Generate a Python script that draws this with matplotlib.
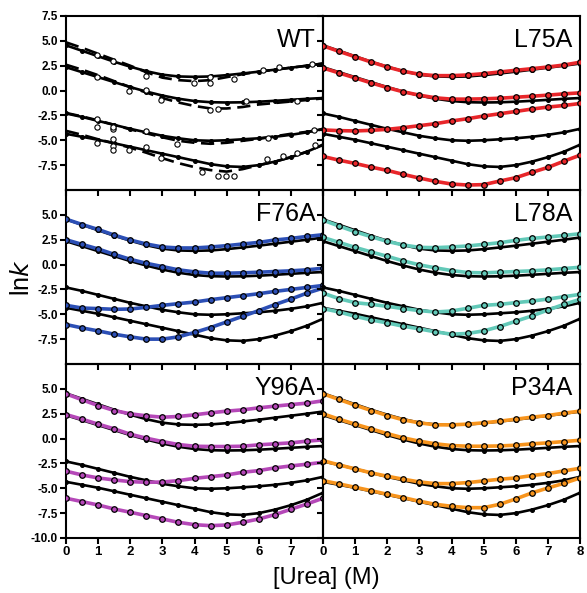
import matplotlib.pyplot as plt

plt.rcParams['font.family'] = ['Liberation Sans', 'DejaVu Sans']

# urea concentrations (M)
urea = [0, 0.5, 1, 1.5, 2, 2.5, 3, 3.5, 4, 4.5, 5, 5.5, 6, 6.5, 7, 7.5, 8]

# WT global fits (solid black, repeated in every panel)
wt_1 = [4.55, 4.0, 3.45, 2.9, 2.4, 1.95, 1.6, 1.42, 1.38, 1.42, 1.55, 1.72, 1.9, 2.1, 2.3, 2.5, 2.72]
wt_2 = [2.35, 1.85, 1.35, 0.85, 0.35, -0.1, -0.5, -0.82, -1.05, -1.17, -1.2, -1.18, -1.12, -1.03, -0.93, -0.83, -0.75]
wt_3 = [-2.3, -2.65, -3.05, -3.45, -3.85, -4.2, -4.55, -4.8, -5.0, -5.05, -5.0, -4.9, -4.8, -4.65, -4.45, -4.2, -3.85]
wt_4 = [-4.35, -4.65, -4.95, -5.3, -5.65, -6.0, -6.35, -6.7, -7.05, -7.4, -7.62, -7.68, -7.5, -7.15, -6.7, -6.15, -5.45]

# WT individual fits (dashed)
wt_d1 = [4.85, 4.3, 3.7, 3.1, 2.5, 1.85, 1.3, 1.05, 0.95, 1.05, 1.35, 1.65, 1.9, 2.1, 2.3, 2.5, 2.72]
wt_d2 = [2.6, 2.1, 1.55, 0.95, 0.35, -0.2, -0.75, -1.2, -1.55, -1.8, -1.8, -1.65, -1.4, -1.25, -1.1, -0.95, -0.78]
wt_d3 = [-2.25, -2.6, -3.0, -3.45, -3.9, -4.3, -4.7, -5.05, -5.25, -5.35, -5.25, -5.05, -4.85, -4.6, -4.35, -4.15, -3.9]
wt_d4 = [-4.05, -4.45, -4.9, -5.3, -5.75, -6.25, -6.8, -7.3, -7.7, -8.0, -8.15, -7.9, -7.5, -7.15, -6.7, -6.15, -5.45]

# WT raw observations (open circles)
wt_obs_x = [0.97, 1.46, 2.48, 3.97, 4.48, 4.48, 5.23, 6.12, 6.64, 7.66,
            0.97, 1.97, 2.48, 2.95, 4.48, 4.74, 5.6, 7.2,
            0.97, 0.97, 1.46, 1.46, 2.48, 3.46, 6.3, 7.71,
            0.97, 1.46, 1.46, 1.46, 1.97, 2.48, 2.95, 4.23, 4.74, 4.99, 5.23, 6.25, 6.74, 7.2, 7.74]
wt_obs_y = [3.54, 3.0, 1.43, 0.77, 0.77, 1.37, 1.17, 2.04, 2.37, 2.64,
            1.37, -0.03, 0.1, -0.97, -2.0, -1.9, -1.06, -1.0,
            -2.9, -3.66, -3.9, -3.63, -4.06, -5.4, -4.75, -4.0,
            -5.23, -4.9, -5.56, -5.96, -5.96, -5.66, -6.83, -8.16, -8.56, -8.56, -8.63, -6.9, -6.56, -6.23, -5.5]

# mutant fits
l75a_1 = [4.5, 3.94, 3.4, 2.87, 2.37, 1.94, 1.64, 1.5, 1.5, 1.57, 1.7, 1.87, 2.04, 2.2, 2.37, 2.57, 2.85]
l75a_2 = [2.27, 1.77, 1.27, 0.77, 0.3, -0.13, -0.46, -0.73, -0.86, -0.86, -0.83, -0.77, -0.67, -0.57, -0.46, -0.33, -0.23]
l75a_3 = [-3.96, -4.03, -4.06, -4.0, -3.9, -3.73, -3.53, -3.33, -3.06, -2.83, -2.56, -2.33, -2.1, -1.86, -1.66, -1.5, -1.3]
l75a_4 = [-6.63, -7.0, -7.33, -7.7, -8.03, -8.43, -8.8, -9.13, -9.4, -9.5, -9.46, -9.1, -8.76, -8.23, -7.73, -7.1, -6.5]

f76a_1 = [4.57, 4.03, 3.53, 2.97, 2.47, 2.07, 1.77, 1.67, 1.67, 1.77, 1.9, 2.07, 2.23, 2.47, 2.63, 2.83, 3.0]
f76a_2 = [2.5, 2.03, 1.57, 1.03, 0.53, 0.13, -0.2, -0.53, -0.73, -0.87, -0.87, -0.83, -0.77, -0.7, -0.63, -0.53, -0.37]
f76a_3 = [-4.1, -4.37, -4.43, -4.5, -4.47, -4.3, -4.1, -3.93, -3.77, -3.53, -3.33, -3.13, -2.93, -2.7, -2.5, -2.3, -2.1]
f76a_4 = [-6.03, -6.37, -6.67, -7.0, -7.27, -7.5, -7.5, -7.27, -6.83, -6.33, -5.77, -5.2, -4.63, -4.03, -3.47, -2.87, -2.37]

l78a_1 = [4.47, 3.87, 3.3, 2.8, 2.33, 1.97, 1.73, 1.7, 1.77, 1.87, 2.03, 2.2, 2.43, 2.63, 2.77, 2.93, 3.1]
l78a_2 = [2.73, 2.23, 1.73, 1.27, 0.83, 0.37, -0.03, -0.33, -0.6, -0.8, -0.83, -0.77, -0.7, -0.63, -0.53, -0.4, -0.27]
l78a_3 = [-2.87, -3.43, -3.83, -4.0, -4.2, -4.43, -4.63, -4.77, -4.67, -4.4, -4.1, -4.0, -3.83, -3.67, -3.47, -3.23, -3.0]
l78a_4 = [-4.43, -4.77, -5.2, -5.57, -5.87, -6.2, -6.47, -6.77, -7.0, -6.93, -6.67, -6.23, -5.7, -5.17, -4.57, -4.0, -3.5]

y96a_1 = [4.5, 3.9, 3.32, 2.82, 2.49, 2.29, 2.15, 2.22, 2.39, 2.59, 2.76, 2.89, 3.09, 3.26, 3.42, 3.56, 3.8]
y96a_2 = [2.42, 1.95, 1.45, 0.98, 0.44, 0.04, -0.3, -0.6, -0.77, -0.8, -0.8, -0.77, -0.63, -0.53, -0.43, -0.26, -0.13]
y96a_3 = [-3.28, -3.66, -3.96, -4.16, -4.33, -4.4, -4.37, -4.23, -4.0, -3.83, -3.66, -3.39, -3.22, -2.95, -2.75, -2.58, -2.38]
y96a_4 = [-6.0, -6.34, -6.68, -7.08, -7.41, -7.75, -8.09, -8.42, -8.66, -8.76, -8.69, -8.42, -8.09, -7.65, -7.11, -6.58, -6.0]

p34a_1 = [4.5, 3.93, 3.36, 2.82, 2.32, 1.88, 1.58, 1.38, 1.38, 1.45, 1.58, 1.75, 1.95, 2.15, 2.32, 2.56, 2.76]
p34a_2 = [2.49, 1.95, 1.45, 0.98, 0.5, 0.07, -0.26, -0.53, -0.7, -0.77, -0.77, -0.74, -0.67, -0.53, -0.43, -0.3, -0.17]
p34a_3 = [-2.22, -2.65, -3.05, -3.45, -3.79, -4.09, -4.36, -4.53, -4.53, -4.43, -4.26, -4.09, -3.96, -3.72, -3.52, -3.25, -2.99]
p34a_4 = [-4.23, -4.56, -4.9, -5.24, -5.6, -5.94, -6.3, -6.61, -6.81, -6.95, -6.95, -6.61, -6.07, -5.47, -4.97, -4.5, -3.96]

panel_names = ["WT", "L75A", "F76A", "L78A", "Y96A", "P34A"]
panel_colors = [None, "#e8262a", "#2c4fb5", "#62c9b8", "#b548b8", "#f7941d"]
panel_fits = [None,
              [l75a_1, l75a_2, l75a_3, l75a_4],
              [f76a_1, f76a_2, f76a_3, f76a_4],
              [l78a_1, l78a_2, l78a_3, l78a_4],
              [y96a_1, y96a_2, y96a_3, y96a_4],
              [p34a_1, p34a_2, p34a_3, p34a_4]]
wt_fits = [wt_1, wt_2, wt_3, wt_4]
wt_dashed = [wt_d1, wt_d2, wt_d3, wt_d4]

W, H = 587, 593
fig = plt.figure(figsize=(W / 100, H / 100), dpi=100)

left_px, pw = 66, 257
top_px, ph = 16, 174

for i, name in enumerate(panel_names):
    row, col = divmod(i, 2)
    x0 = (left_px + col * pw) / W
    y0 = 1 - (top_px + (row + 1) * ph) / H
    ax = fig.add_axes([x0, y0, pw / W, ph / H])
    ax.patch.set_alpha(0)

    for fit in wt_fits:
        ax.plot(urea, fit, color="black", lw=1.9, marker="o", ms=2.6,
                mfc="black", mec="black", zorder=2)

    if name == "WT":
        for fit in wt_dashed:
            ax.plot(urea, fit, color="black", lw=1.9, ls=(0, (5, 2.5)), zorder=2)
        ax.plot(wt_obs_x, wt_obs_y, ls="none", marker="o", ms=3.8,
                mfc="white", mec="black", mew=0.8, zorder=3)
    else:
        for fit in panel_fits[i]:
            ax.plot(urea, fit, color=panel_colors[i], lw=2.6, marker="o", ms=4.0,
                    mfc=panel_colors[i], mec="black", mew=0.9, zorder=3)

    ax.set_xlim(0, 8)
    ax.set_ylim(-10, 7.5)
    ax.set_xticks(range(0, 9))
    if row == 0:
        yt = [7.5, 5.0, 2.5, 0.0, -2.5, -5.0, -7.5]
    elif row == 1:
        yt = [5.0, 2.5, 0.0, -2.5, -5.0, -7.5]
    else:
        yt = [5.0, 2.5, 0.0, -2.5, -5.0, -7.5, -10.0]
    ax.set_yticks(yt)
    ax.set_yticklabels([f"{v:.1f}" for v in yt])
    if row == 2:
        if col == 0:
            ax.set_xticklabels([str(v) for v in range(0, 8)] + [""])
        else:
            ax.set_xticklabels([str(v) for v in range(0, 9)])
    else:
        ax.set_xticklabels([])
    if col == 1:
        ax.set_yticklabels([])

    ax.tick_params(direction="out", length=4, width=1.5, pad=2)
    ax.tick_params(axis="y", labelsize=8.5)
    ax.tick_params(axis="x", labelsize=9.5)
    for lab in ax.get_xticklabels() + ax.get_yticklabels():
        lab.set_fontweight("bold")
    for sp in ax.spines.values():
        sp.set_linewidth(1.5)

    ax.text(0.97, 0.93, name, transform=ax.transAxes, ha="right", va="top",
            fontsize=18)

fig.text(22 / W, 1 - 278 / H, r"ln$\mathit{k}$", rotation=90, ha="center",
         va="center", fontsize=18)
fig.text(326 / W, 1 - 578 / H, "[Urea] (M)", ha="center", va="center", fontsize=17)

fig.savefig("out.png", dpi=100)
